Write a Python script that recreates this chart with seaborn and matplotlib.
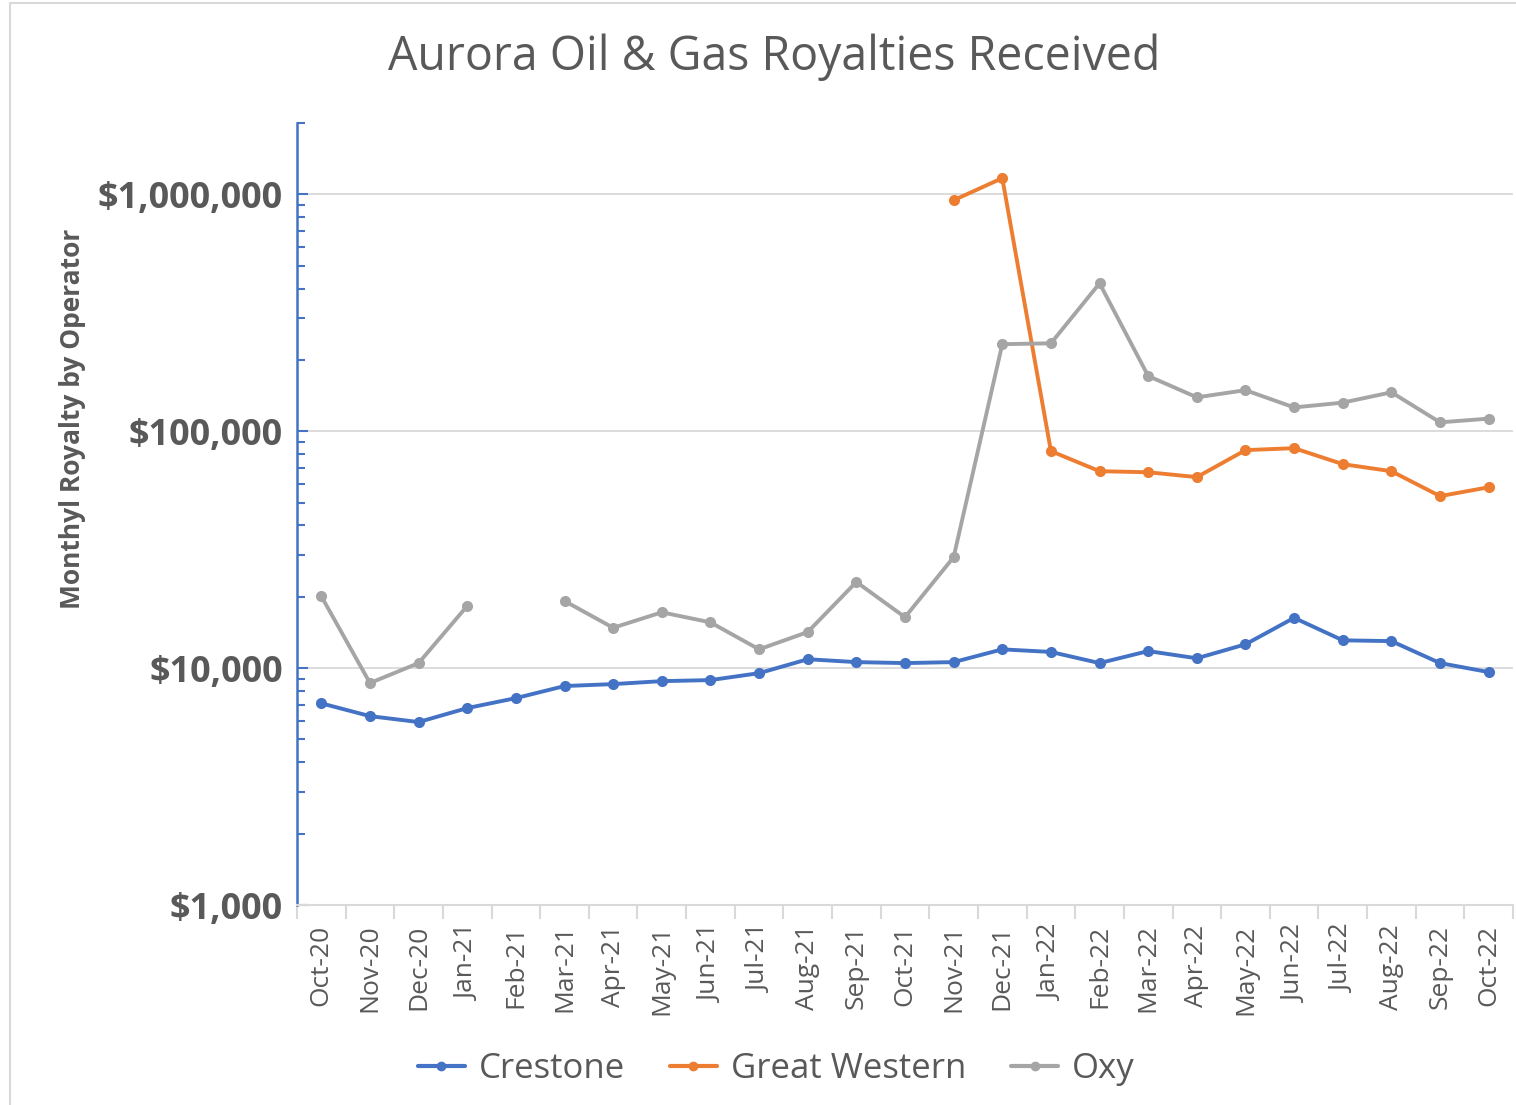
import numpy as np
import pandas as pd
import seaborn as sns
import matplotlib.pyplot as plt
from matplotlib.ticker import FuncFormatter, LogLocator, FixedLocator, NullFormatter
from matplotlib.lines import Line2D

months = ['Oct-20', 'Nov-20', 'Dec-20', 'Jan-21', 'Feb-21', 'Mar-21', 'Apr-21', 'May-21',
          'Jun-21', 'Jul-21', 'Aug-21', 'Sep-21', 'Oct-21', 'Nov-21', 'Dec-21', 'Jan-22',
          'Feb-22', 'Mar-22', 'Apr-22', 'May-22', 'Jun-22', 'Jul-22', 'Aug-22', 'Sep-22', 'Oct-22']

crestone = [7100, 6270, 5920, 6780, 7470, 8400, 8560, 8810, 8900, 9520, 10900, 10600, 10500,
            10600, 12000, 11700, 10500, 11800, 11000, 12600, 16300, 13100, 13000, 10500, 9620]

great_western = [np.nan] * 13 + [944000, 1170000, 82400, 67800, 67100, 64000, 83200,
                                 84800, 72600, 67800, 53200, 58000]

oxy = [20100, 8650, 10500, 18300, np.nan, 19200, 14800, 17200, 15600, 12000, 14200, 23100,
       16400, 29400, 233000, 235000, 421000, 171000, 139000, 149000, 126000, 132000, 146000,
       109000, 113000]

operators = ['Crestone', 'Great Western', 'Oxy']
colors = {'Crestone': '#4472C4', 'Great Western': '#ED7D31', 'Oxy': '#A5A5A5'}

# long form, with a segment id so gaps stay gaps
rows = []
for name, vals in zip(operators, [crestone, great_western, oxy]):
    seg = 0
    for i, v in enumerate(vals):
        if np.isnan(v):
            seg += 1
            continue
        rows.append({'idx': i, 'value': v, 'operator': name, 'segment': f'{name}-{seg}'})
df = pd.DataFrame(rows)

sns.set_style('white')
plt.rcParams['font.family'] = ['Open Sans', 'DejaVu Sans']

fig = plt.figure(figsize=(15.16, 11.05), dpi=100)
ax = fig.add_axes([297 / 1516, 1 - 905 / 1105, 1216 / 1516, (905 - 123) / 1105])

sns.lineplot(data=df, x='idx', y='value', hue='operator', units='segment', estimator=None,
             palette=colors, hue_order=operators, marker='o', markersize=8, markeredgewidth=0,
             linewidth=2.8, legend=False, ax=ax)

ax.set_yscale('log')
ax.set_ylim(1000, 2e6)
ax.set_xlim(-0.5, 24.5)

ax.yaxis.set_major_locator(FixedLocator([1e3, 1e4, 1e5, 1e6]))
ax.yaxis.set_minor_locator(LogLocator(base=10, subs=np.arange(2, 10), numticks=50))
ax.yaxis.set_minor_formatter(NullFormatter())
ax.yaxis.set_major_formatter(FuncFormatter(lambda v, p: f'${v:,.0f}'))
ax.tick_params(axis='y', which='both', left=True, direction='in', color='#4472C4', width=1.5,
               labelsize=26, labelcolor='#595959', pad=10)
ax.tick_params(axis='y', which='major', length=8)
ax.tick_params(axis='y', which='minor', length=6)
for t in ax.get_yticklabels():
    t.set_fontweight('bold')

ax.set_xticks(range(len(months)))
ax.set_xticklabels(months, rotation=90)
ax.set_xticks(np.arange(-0.5, 25, 1), minor=True)
ax.tick_params(axis='x', which='major', length=0, labelsize=19, labelcolor='#595959', pad=14)
ax.tick_params(axis='x', which='minor', bottom=True, length=10, color='#D9D9D9', width=1.5,
               direction='out')

ax.grid(True, axis='y', which='major', color='#D9D9D9', linewidth=1.3)
ax.grid(False, axis='x')

for s in ['top', 'right']:
    ax.spines[s].set_visible(False)
ax.spines['left'].set_color('#4472C4')
ax.spines['left'].set_linewidth(1.8)
ax.spines['bottom'].set_color('#D9D9D9')
ax.spines['bottom'].set_linewidth(1.5)

ax.set_xlabel('')
ax.set_ylabel('Monthyl Royalty by Operator', fontsize=19, fontweight='bold', color='#595959')
ax.yaxis.set_label_coords((86 - 297) / 1216, (905 - 419) / 782)

fig.text(0.511, 1 - 57 / 1105, 'Aurora Oil & Gas Royalties Received', fontsize=33.5,
         color='#595959', ha='center', va='center')

handles = [Line2D([0], [0], color=colors[n], lw=3, marker='o', markersize=6) for n in operators]
fig.legend(handles, operators, loc='center', bbox_to_anchor=(0.512, 1 - 1069 / 1105), ncol=3,
           frameon=False, fontsize=25, handlelength=1.35, columnspacing=1.3, handletextpad=0.4,
           labelcolor='#595959')

# chart-area border, left and top edges
fig.add_artist(Line2D([10 / 1516, 10 / 1516], [0, 1 - 3 / 1105], transform=fig.transFigure,
                      color='#D9D9D9', lw=1.5))
fig.add_artist(Line2D([10 / 1516, 1], [1 - 3 / 1105, 1 - 3 / 1105], transform=fig.transFigure,
                      color='#D9D9D9', lw=1.5))

fig.savefig('out.png', dpi=100)
